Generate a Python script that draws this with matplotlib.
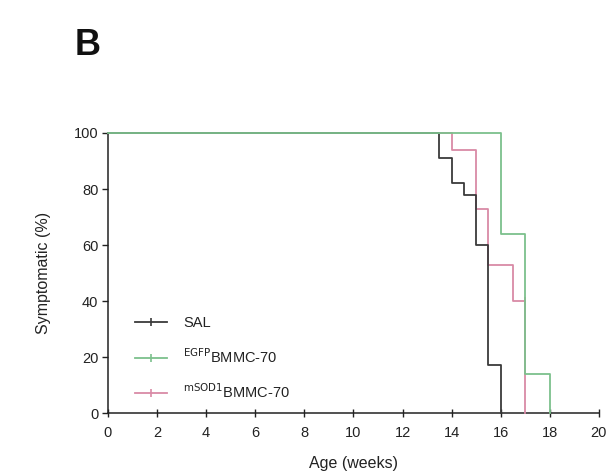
import matplotlib
matplotlib.use("Agg")
import matplotlib.pyplot as plt
from matplotlib.lines import Line2D

# Kaplan-Meier style step data: age (weeks) at each step, % symptomatic after the step
sal_weeks = [0, 13.5, 14.0, 14.5, 15.0, 15.5, 16.0]
sal_pct = [100, 91, 82, 78, 60, 17, 0]

egfp_weeks = [0, 16.0, 17.0, 18.0]
egfp_pct = [100, 64, 14, 0]

msod_weeks = [0, 14.0, 15.0, 15.5, 16.5, 17.0]
msod_pct = [100, 94, 73, 53, 40, 0]

series_labels = ["SAL", r"$^{\mathrm{EGFP}}$BMMC-70", r"$^{\mathrm{mSOD1}}$BMMC-70"]
series_colors = ["#3a3a3a", "#7cc08c", "#d98aa6"]

x_ticks = list(range(0, 21, 2))
y_ticks = list(range(0, 101, 20))

plt.rcParams["font.family"] = ["Liberation Sans", "DejaVu Sans"]

fig = plt.figure(figsize=(6.16, 4.75), dpi=100)
ax = fig.add_axes([0.1753, 0.1305, 0.797, 0.5895])

data = [(sal_weeks, sal_pct), (egfp_weeks, egfp_pct), (msod_weeks, msod_pct)]
zorders = [4, 5, 3]
for i, (w, p) in enumerate(data):
    ax.step(w, p, where="post", color=series_colors[i], lw=1.3, zorder=zorders[i],
            clip_on=False)

# censor tick on the mSOD1 curve
ax.plot([17.0], [40], marker="|", color=series_colors[2], ms=6, mew=1.2, zorder=4)

ax.set_xlim(0, 20)
ax.set_ylim(0, 100)
ax.set_xticks(x_ticks)
ax.set_yticks(y_ticks)
ax.tick_params(axis="x", direction="inout", length=6, width=1, labelsize=10.5, pad=6, colors="#222222")
ax.tick_params(axis="y", direction="out", length=4, width=1, labelsize=10.5, pad=3, colors="#222222")

for side in ["top", "right"]:
    ax.spines[side].set_visible(False)
for side in ["left", "bottom"]:
    ax.spines[side].set_color("#222222")
    ax.spines[side].set_linewidth(1.1)

ax.set_xlabel("Age (weeks)", fontsize=11.5, labelpad=12, color="#222222")
ax.set_ylabel("Symptomatic (%)", fontsize=11.5, labelpad=16, color="#222222")

handles = [Line2D([0], [0], color=c, lw=1.3, marker="|", ms=6, mew=1.2) for c in series_colors]
leg = ax.legend(handles, series_labels, loc="lower left", bbox_to_anchor=(0.025, -0.01),
                frameon=False, fontsize=10.5, handlelength=2.2, handletextpad=1.1,
                labelspacing=1.15, borderaxespad=0.6)
for t in leg.get_texts():
    t.set_color("#222222")

fig.text(0.143, 0.905, "B", fontsize=26, fontweight="bold", ha="center", va="center", color="#111111")

fig.savefig("out.png", dpi=100)
